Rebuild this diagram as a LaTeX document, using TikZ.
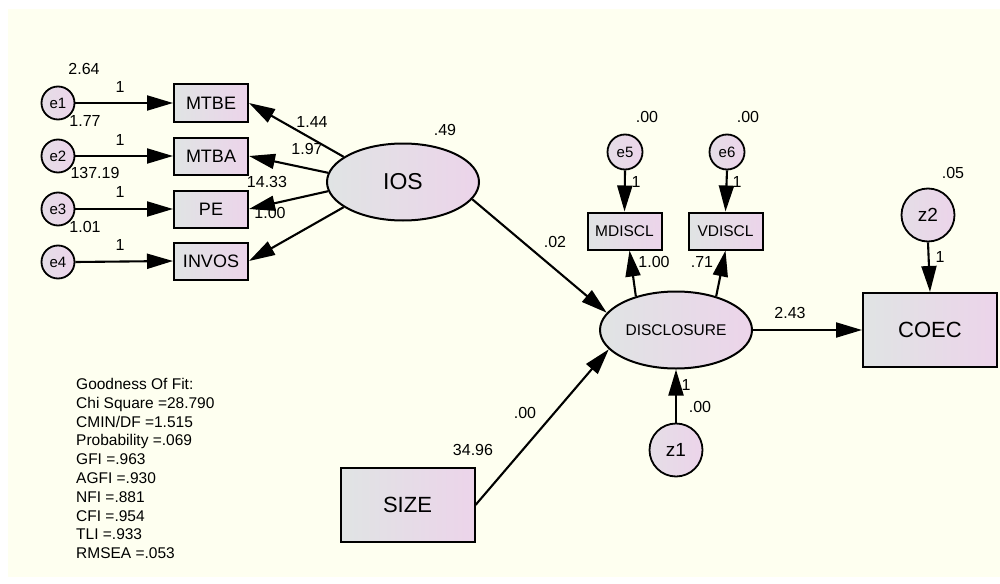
\documentclass[tikz,border=0pt]{standalone}
\usepackage{fontspec}
\setmainfont{Liberation Sans}
\usetikzlibrary{shapes.geometric,arrows.meta}
\definecolor{ivory}{RGB}{254,255,240}
\definecolor{gl}{RGB}{224,228,228}
\definecolor{pk}{RGB}{236,212,234}
\tikzset{
  obs/.style={draw=black, line width=2pt, left color=gl, right color=pk, inner sep=0pt, minimum width=74pt, minimum height=37pt, font=\fontsize{18}{18}\selectfont},
  bigobs/.style={obs, minimum width=134pt, minimum height=74pt, font=\fontsize{22}{22}\selectfont},
  smallobs/.style={obs, font=\fontsize{15.5}{15.5}\selectfont},
  err/.style={circle, draw=black, line width=1.8pt, left color=gl!60!pk, right color=pk, inner sep=0pt, minimum size=33pt, font=\fontsize{15}{15}\selectfont},
  bigerr/.style={err, minimum size=53pt, font=\fontsize{19}{19}\selectfont},
  lat/.style={ellipse, draw=black, line width=2pt, left color=gl, right color=pk, inner sep=0pt, minimum width=152pt, minimum height=77pt},
  reg/.style={line width=2.1pt, -{Triangle[length=26pt,width=15pt]}},
  lbl/.style={inner sep=0pt, font=\fontsize{16}{16}\selectfont}
}
\begin{document}
\begin{tikzpicture}[x=1pt,y=-1pt]
\useasboundingbox (0,0) rectangle (1000,583);
\fill[white] (0,0) rectangle (1000,583);
\fill[ivory] (8,9) rectangle (1000,577);

% indicators
\node[err] (e1) at (58,103) {e1};
\node[err] (e2) at (58,156) {e2};
\node[err] (e3) at (58,209) {e3};
\node[err] (e4) at (58,262) {e4};
\node[obs] (MTBE) at (211,103) {MTBE};
\node[obs] (MTBA) at (211,156) {MTBA};
\node[obs] (PE) at (211,209) {PE};
\node[obs] (INVOS) at (211,261) {INVOS};
\node[lat, font=\fontsize{23}{23}\selectfont] (IOS) at (403,182) {IOS};

\node[lat, font=\fontsize{15.5}{15.5}\selectfont] (DISC) at (676,330) {DISCLOSURE};
\node[smallobs] (MDISCL) at (624.5,231) {MDISCL};
\node[smallobs] (VDISCL) at (725.5,231) {VDISCL};
\node[err, minimum size=35pt] (e5) at (625,152) {e5};
\node[err, minimum size=35pt] (e6) at (727,152) {e6};
\node[bigerr] (z1) at (676,450) {z1};
\node[bigerr] (z2) at (928,215) {z2};
\node[bigobs] (COEC) at (930,330) {COEC};
\node[bigobs] (SIZE) at (407.5,505) {SIZE};

% paths
\draw[reg] (e1.east) -- (MTBE.west);
\draw[reg] (e2.east) -- (MTBA.west);
\draw[reg] (e3.east) -- (PE.west);
\draw[reg] (e4.east) -- (INVOS.west);
\draw[reg] (IOS.157) -- (MTBE.east);
\draw[reg] (IOS.173) -- (MTBA.east);
\draw[reg] (IOS.187) -- (PE.east);
\draw[reg] (IOS.203) -- (INVOS.east);
\draw[reg] (IOS.-14) -- (DISC.166);
\draw[reg] (SIZE.east) -- (DISC.196);
\draw[reg] (DISC.140) -- ([xshift=5pt]MDISCL.south);
\draw[reg] (DISC.40) -- (VDISCL.south);
\draw[reg] (e5.south) -- (MDISCL.north);
\draw[reg] (e6.south) -- (VDISCL.north);
\draw[reg] (z1.north) -- (DISC.south);
\draw[reg] (DISC.east) -- (COEC.west);
\draw[reg] (z2.south) -- (COEC.north);

% labels
\node[lbl] (l1) at (84,69) {2.64};
\node[lbl] (l2) at (85,121) {1.77};
\node[lbl] (l3) at (95,173) {137.19};
\node[lbl] (l4) at (85,227) {1.01};
\node[lbl] (w1) at (120,87) {1};
\node[lbl] (w2) at (120,140) {1};
\node[lbl] (w3) at (120,192) {1};
\node[lbl] (w4) at (120,245) {1};
\node[lbl] (k1) at (312,122) {1.44};
\node[lbl] (k2) at (307,149) {1.97};
\node[lbl] (k3) at (267,182) {14.33};
\node[lbl] (k4) at (270,213) {1.00};
\node[lbl] (v1) at (445,130) {.49};
\node[lbl] (b1) at (555,242) {.02};
\node[lbl] (b2) at (525,413) {.00};
\node[lbl] (v2) at (473,450) {34.96};
\node[lbl] (v3) at (647,117) {.00};
\node[lbl] (v4) at (748,117) {.00};
\node[lbl] (w5) at (636,182) {1};
\node[lbl] (w6) at (737,182) {1};
\node[lbl] (k5) at (654,262) {1.00};
\node[lbl] (k6) at (702,262) {.71};
\node[lbl] (b3) at (790,313) {2.43};
\node[lbl] (v5) at (953,173) {.05};
\node[lbl] (w7) at (940,257) {1};
\node[lbl] (w8) at (686,385) {1};
\node[lbl] (v6) at (700,407) {.00};

\node[anchor=north west, align=left, inner sep=0pt, font=\fontsize{15.5}{18.8}\selectfont] (gof) at (76,378)
 {Goodness Of Fit:\\Chi Square =28.790\\CMIN/DF =1.515\\Probability =.069\\GFI =.963\\AGFI =.930\\NFI =.881\\CFI =.954\\TLI =.933\\RMSEA =.053};
\end{tikzpicture}
\end{document}
